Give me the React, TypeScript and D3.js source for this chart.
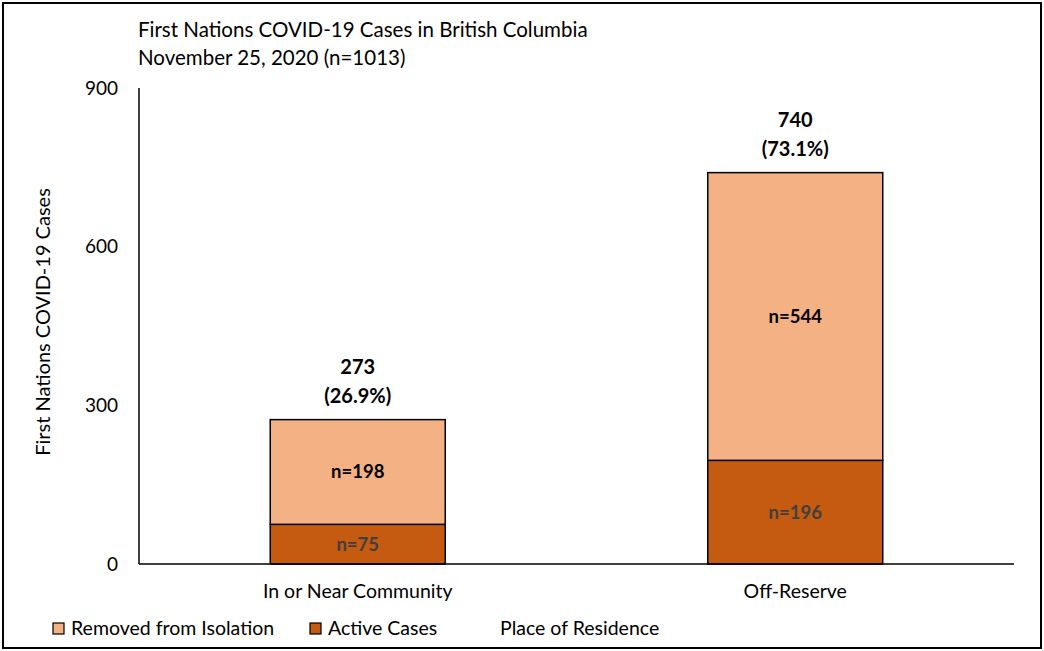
import React from 'react';
import * as d3 from 'd3';

// Data
const categories = ['In or Near Community', 'Off-Reserve'];
const activeCases = [75, 196];
const removedFromIsolation = [198, 544];
const totalLabels = ['273', '740'];
const percentLabels = ['(26.9%)', '(73.1%)'];
const yTicks = [0, 300, 600, 900];

const FONT = 'Lato, "Open Sans", sans-serif';
const LIGHT = '#F4B183';
const DARK = '#C55A11';

export default function App() {
  const width = 1044;
  const height = 651;
  const margin = { top: 88, right: 30, bottom: 87, left: 139 };
  const innerWidth = width - margin.left - margin.right;
  const innerHeight = height - margin.top - margin.bottom;

  const x = d3.scaleBand<string>()
    .domain(categories)
    .range([0, innerWidth])
    .paddingInner(0.6)
    .paddingOuter(0.3);

  const y = d3.scaleLinear().domain([0, 900]).range([innerHeight, 0]);

  const stack = d3.stack<number>()
    .keys(['active', 'removed'])
    .value((i, key) => (key === 'active' ? activeCases[i] : removedFromIsolation[i]));
  const series = stack(categories.map((_, i) => i));

  return (
    <div style={{ position: 'absolute', left: 0, top: 0 }}>
      <svg width={width} height={height} style={{ display: 'block', fontFamily: FONT }}>
        <rect x={0} y={0} width={width} height={height} fill="#fff" />
        <rect x={3} y={3} width={1038} height={645} fill="none" stroke="#000" strokeWidth={2} />

        {/* Title */}
        <text x={138} y={37} fontSize={20.5} fill="#000">First Nations COVID-19 Cases in British Columbia</text>
        <text x={138} y={65} fontSize={20.5} fill="#000">November 25, 2020 (n=1013)</text>

        {/* Y axis title */}
        <text
          transform={`translate(50,${margin.top + innerHeight / 2 - 4}) rotate(-90)`}
          textAnchor="middle"
          fontSize={20}
          fill="#000"
        >
          First Nations COVID-19 Cases
        </text>

        <g transform={`translate(${margin.left},${margin.top})`}>
          {/* Y tick labels */}
          {yTicks.map(t => (
            <text key={t} x={-21} y={y(t)} dy="0.35em" textAnchor="end" fontSize={19} fill="#000">
              {t}
            </text>
          ))}

          {/* Bars */}
          {series.map(s =>
            s.map((d, i) => (
              <rect
                key={`${s.key}-${i}`}
                x={x(categories[i])}
                y={y(d[1])}
                width={x.bandwidth()}
                height={y(d[0]) - y(d[1])}
                fill={s.key === 'active' ? DARK : LIGHT}
                stroke="#000"
                strokeWidth={1.5}
              />
            ))
          )}

          {/* Segment labels */}
          {series.map(s =>
            s.map((d, i) => (
              <text
                key={`lbl-${s.key}-${i}`}
                x={(x(categories[i]) ?? 0) + x.bandwidth() / 2}
                y={(y(d[0]) + y(d[1])) / 2}
                dy="0.35em"
                textAnchor="middle"
                fontSize={18.5}
                fontWeight="bold"
                fill={s.key === 'active' ? '#404040' : '#000'}
              >
                {`n=${d[1] - d[0]}`}
              </text>
            ))
          )}

          {/* Total labels */}
          {categories.map((c, i) => {
            const top = y(activeCases[i] + removedFromIsolation[i]);
            const cx = (x(c) ?? 0) + x.bandwidth() / 2;
            return (
              <g key={`tot-${c}`}>
                <text x={cx} y={top - 46} textAnchor="middle" fontSize={20} fontWeight="bold" fill="#000">
                  {totalLabels[i]}
                </text>
                <text x={cx} y={top - 17} textAnchor="middle" fontSize={20} fontWeight="bold" fill="#000">
                  {percentLabels[i]}
                </text>
              </g>
            );
          })}

          {/* Axes lines */}
          <line x1={0} x2={0} y1={0} y2={innerHeight} stroke="#000" strokeWidth={1.5} />
          <line x1={0} x2={innerWidth} y1={innerHeight} y2={innerHeight} stroke="#000" strokeWidth={1.5} />

          {/* Category labels */}
          {categories.map(c => (
            <text
              key={c}
              x={(x(c) ?? 0) + x.bandwidth() / 2}
              y={innerHeight + 34}
              textAnchor="middle"
              fontSize={19.5}
              fill="#000"
            >
              {c}
            </text>
          ))}
        </g>

        {/* Legend */}
        <rect x={53} y={623} width={11} height={11} fill={LIGHT} stroke="#000" strokeWidth={1.2} />
        <text x={71} y={635} fontSize={19.5} fill="#000">Removed from Isolation</text>
        <rect x={310} y={623} width={11} height={11} fill={DARK} stroke="#000" strokeWidth={1.2} />
        <text x={328} y={635} fontSize={19.5} fill="#000">Active Cases</text>
        <text x={500} y={635} fontSize={19.5} fill="#000">Place of Residence</text>
      </svg>
    </div>
  );
}
